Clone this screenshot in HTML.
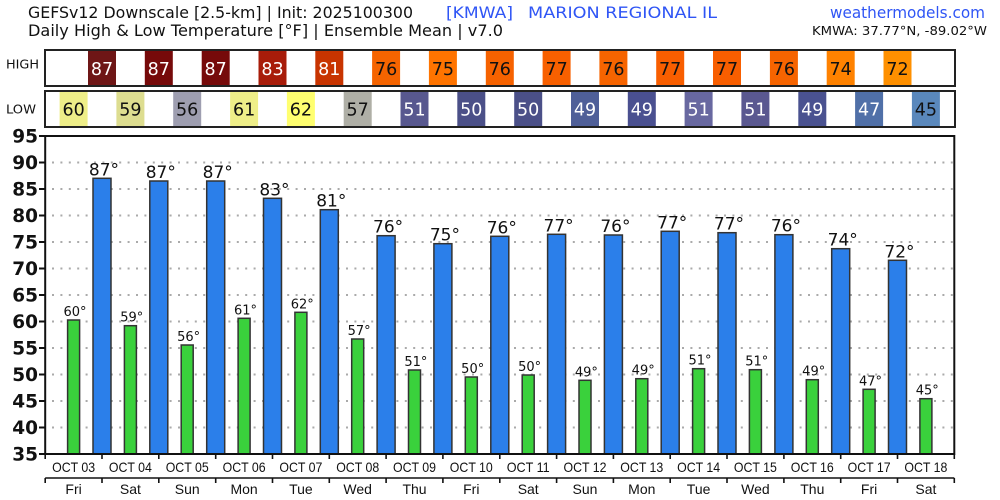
<!DOCTYPE html>
<html><head><meta charset="utf-8"><style>
html,body{margin:0;padding:0;background:#fff;}
svg{display:block;}
text{font-family:"DejaVu Sans","Liberation Sans",sans-serif;}
.t{font-family:"Liberation Sans","DejaVu Sans",sans-serif;}
</style></head><body>
<svg width="1000" height="500" viewBox="0 0 1000 500" xmlns="http://www.w3.org/2000/svg">
<rect width="1000" height="500" fill="#fff"/>
<!-- Titles -->
<text x="28" y="18" font-size="16" fill="#111" textLength="385" lengthAdjust="spacingAndGlyphs">GEFSv12 Downscale [2.5-km] | Init: 2025100300</text>
<text x="28" y="36" font-size="16" fill="#111" textLength="475" lengthAdjust="spacingAndGlyphs">Daily High &amp; Low Temperature [°F] | Ensemble Mean | v7.0</text>
<text x="446" y="18" font-size="16" fill="#2f55f5" textLength="67" lengthAdjust="spacingAndGlyphs">[KMWA]</text>
<text x="528" y="18" font-size="16" fill="#2f55f5" textLength="189" lengthAdjust="spacingAndGlyphs">MARION REGIONAL IL</text>
<text x="830" y="18" font-size="16" fill="#2f55f5" textLength="155" lengthAdjust="spacingAndGlyphs">weathermodels.com</text>
<text x="812" y="35" font-size="12.5" fill="#111" textLength="175" lengthAdjust="spacingAndGlyphs">KMWA: 37.77°N, -89.02°W</text>

<!-- HIGH/LOW labels -->
<text x="6" y="68.3" font-size="12" fill="#111" textLength="33" lengthAdjust="spacingAndGlyphs">HIGH</text>
<text x="6" y="113.3" font-size="12" fill="#111" textLength="30" lengthAdjust="spacingAndGlyphs">LOW</text>

<!-- HIGH cells -->
<g font-size="17.5" text-anchor="middle">
<rect x="88" y="51" width="28" height="34" fill="#6e1616"/><text x="102" y="75" fill="#fff">87</text>
<rect x="144.8" y="51" width="28" height="34" fill="#760a0a"/><text x="158.8" y="75" fill="#fff">87</text>
<rect x="201.7" y="51" width="28" height="34" fill="#760a0a"/><text x="215.7" y="75" fill="#fff">87</text>
<rect x="258.5" y="51" width="28" height="34" fill="#a81c0a"/><text x="272.5" y="75" fill="#fff">83</text>
<rect x="315.3" y="51" width="28" height="34" fill="#c83400"/><text x="329.3" y="75" fill="#fff">81</text>
<rect x="372.1" y="51" width="28" height="34" fill="#f56400"/><text x="386.1" y="75" fill="#111">76</text>
<rect x="428.9" y="51" width="28" height="34" fill="#ff7400"/><text x="442.9" y="75" fill="#111">75</text>
<rect x="485.8" y="51" width="28" height="34" fill="#f66200"/><text x="499.8" y="75" fill="#111">76</text>
<rect x="542.6" y="51" width="28" height="34" fill="#f86000"/><text x="556.6" y="75" fill="#111">77</text>
<rect x="599.4" y="51" width="28" height="34" fill="#f66400"/><text x="613.4" y="75" fill="#111">76</text>
<rect x="656.2" y="51" width="28" height="34" fill="#f85e00"/><text x="670.2" y="75" fill="#111">77</text>
<rect x="713" y="51" width="28" height="34" fill="#f85e00"/><text x="727" y="75" fill="#111">77</text>
<rect x="769.9" y="51" width="28" height="34" fill="#f66400"/><text x="783.9" y="75" fill="#111">76</text>
<rect x="826.7" y="51" width="28" height="34" fill="#ff8200"/><text x="840.7" y="75" fill="#111">74</text>
<rect x="883.5" y="51" width="28" height="34" fill="#ff9000"/><text x="897.5" y="75" fill="#111">72</text>
</g>
<rect x="45" y="50" width="910" height="36" fill="none" stroke="#222" stroke-width="2"/>

<!-- LOW cells -->
<g font-size="17.5" text-anchor="middle">
<rect x="59.6" y="92" width="28" height="34" fill="#eeee88"/><text x="73.6" y="115.7" fill="#111">60</text>
<rect x="116.4" y="92" width="28" height="34" fill="#dddd90"/><text x="130.4" y="115.7" fill="#111">59</text>
<rect x="173.2" y="92" width="28" height="34" fill="#9e9eb0"/><text x="187.2" y="115.7" fill="#111">56</text>
<rect x="230.1" y="92" width="28" height="34" fill="#eeee88"/><text x="244.1" y="115.7" fill="#111">61</text>
<rect x="286.9" y="92" width="28" height="34" fill="#ffff70"/><text x="300.9" y="115.7" fill="#111">62</text>
<rect x="343.7" y="92" width="28" height="34" fill="#afafa6"/><text x="357.7" y="115.7" fill="#111">57</text>
<rect x="400.5" y="92" width="28" height="34" fill="#58588f"/><text x="414.5" y="115.7" fill="#fff">51</text>
<rect x="457.3" y="92" width="28" height="34" fill="#4b5088"/><text x="471.3" y="115.7" fill="#fff">50</text>
<rect x="514.2" y="92" width="28" height="34" fill="#4b5088"/><text x="528.2" y="115.7" fill="#fff">50</text>
<rect x="571" y="92" width="28" height="34" fill="#4f5f98"/><text x="585" y="115.7" fill="#fff">49</text>
<rect x="627.8" y="92" width="28" height="34" fill="#4a5090"/><text x="641.8" y="115.7" fill="#fff">49</text>
<rect x="684.6" y="92" width="28" height="34" fill="#6868a0"/><text x="698.6" y="115.7" fill="#fff">51</text>
<rect x="741.4" y="92" width="28" height="34" fill="#5a5890"/><text x="755.4" y="115.7" fill="#fff">51</text>
<rect x="798.3" y="92" width="28" height="34" fill="#4a5290"/><text x="812.3" y="115.7" fill="#fff">49</text>
<rect x="855.1" y="92" width="28" height="34" fill="#5070a8"/><text x="869.1" y="115.7" fill="#fff">47</text>
<rect x="911.9" y="92" width="28" height="34" fill="#5a88bc"/><text x="925.9" y="115.7" fill="#111">45</text>
</g>
<rect x="45" y="91" width="910" height="36" fill="none" stroke="#222" stroke-width="2"/>

<!-- Grid -->
<g stroke="#aaa" stroke-width="2" stroke-dasharray="2 6.4">
<line x1="52" x2="953" y1="162.5" y2="162.5"/>
<line x1="52" x2="953" y1="189" y2="189"/>
<line x1="52" x2="953" y1="215.5" y2="215.5"/>
<line x1="52" x2="953" y1="242" y2="242"/>
<line x1="52" x2="953" y1="268.5" y2="268.5"/>
<line x1="52" x2="953" y1="295" y2="295"/>
<line x1="52" x2="953" y1="321.5" y2="321.5"/>
<line x1="52" x2="953" y1="348" y2="348"/>
<line x1="52" x2="953" y1="374.5" y2="374.5"/>
<line x1="52" x2="953" y1="401" y2="401"/>
<line x1="52" x2="953" y1="427.5" y2="427.5"/>
</g>

<!-- Y axis labels & ticks -->
<g font-size="18.5" font-weight="bold" text-anchor="end" fill="#111">
<text x="38" y="142.5">95</text>
<text x="38" y="169">90</text>
<text x="38" y="195.5">85</text>
<text x="38" y="222">80</text>
<text x="38" y="248.5">75</text>
<text x="38" y="275">70</text>
<text x="38" y="301.5">65</text>
<text x="38" y="328">60</text>
<text x="38" y="354.5">55</text>
<text x="38" y="381">50</text>
<text x="38" y="407.5">45</text>
<text x="38" y="434">40</text>
<text x="38" y="460.5">35</text>
</g>
<g stroke="#111" stroke-width="2">
<line x1="39" x2="45" y1="136" y2="136"/>
<line x1="39" x2="45" y1="162.5" y2="162.5"/>
<line x1="39" x2="45" y1="189" y2="189"/>
<line x1="39" x2="45" y1="215.5" y2="215.5"/>
<line x1="39" x2="45" y1="242" y2="242"/>
<line x1="39" x2="45" y1="268.5" y2="268.5"/>
<line x1="39" x2="45" y1="295" y2="295"/>
<line x1="39" x2="45" y1="321.5" y2="321.5"/>
<line x1="39" x2="45" y1="348" y2="348"/>
<line x1="39" x2="45" y1="374.5" y2="374.5"/>
<line x1="39" x2="45" y1="401" y2="401"/>
<line x1="39" x2="45" y1="427.5" y2="427.5"/>
<line x1="39" x2="45" y1="454" y2="454"/>
</g>

<!-- High bars -->
<g fill="#2b7fea" stroke="#333" stroke-width="1.5">
<rect x="93" y="178.3" width="18" height="275.7"/>
<rect x="149.8" y="181" width="18" height="273"/>
<rect x="206.7" y="181" width="18" height="273"/>
<rect x="263.5" y="198.3" width="18" height="255.7"/>
<rect x="320.3" y="209.7" width="18" height="244.3"/>
<rect x="377.1" y="235.7" width="18" height="218.3"/>
<rect x="433.9" y="243.7" width="18" height="210.3"/>
<rect x="490.8" y="236.3" width="18" height="217.7"/>
<rect x="547.6" y="234.3" width="18" height="219.7"/>
<rect x="604.4" y="235" width="18" height="219"/>
<rect x="661.2" y="231.3" width="18" height="222.7"/>
<rect x="718" y="232.7" width="18" height="221.3"/>
<rect x="774.9" y="234.7" width="18" height="219.3"/>
<rect x="831.7" y="248.7" width="18" height="205.3"/>
<rect x="888.5" y="260.3" width="18" height="193.7"/>
</g>
<!-- Low bars -->
<g fill="#3ad13c" stroke="#333" stroke-width="1.5">
<rect x="67.6" y="320" width="12" height="134"/>
<rect x="124.4" y="325.7" width="12" height="128.3"/>
<rect x="181.2" y="345" width="12" height="109"/>
<rect x="238.1" y="318.3" width="12" height="135.7"/>
<rect x="294.9" y="312.3" width="12" height="141.7"/>
<rect x="351.7" y="339" width="12" height="115"/>
<rect x="408.5" y="370" width="12" height="84"/>
<rect x="465.3" y="377" width="12" height="77"/>
<rect x="522.2" y="375" width="12" height="79"/>
<rect x="579" y="380.3" width="12" height="73.7"/>
<rect x="635.8" y="378.7" width="12" height="75.3"/>
<rect x="692.6" y="368.7" width="12" height="85.3"/>
<rect x="749.4" y="369.7" width="12" height="84.3"/>
<rect x="806.3" y="379.7" width="12" height="74.3"/>
<rect x="863.1" y="389.3" width="12" height="64.7"/>
<rect x="919.9" y="398.7" width="12" height="55.3"/>
</g>

<!-- High labels -->
<g font-size="17" text-anchor="middle" fill="#111">
<text x="104" y="175.3">87°</text>
<text x="160.8" y="178">87°</text>
<text x="217.7" y="178">87°</text>
<text x="274.5" y="195.3">83°</text>
<text x="331.3" y="206.7">81°</text>
<text x="388.1" y="232.7">76°</text>
<text x="444.9" y="240.7">75°</text>
<text x="501.8" y="233.3">76°</text>
<text x="558.6" y="231.3">77°</text>
<text x="615.4" y="232">76°</text>
<text x="672.2" y="228.3">77°</text>
<text x="729" y="229.7">77°</text>
<text x="785.9" y="231.7">76°</text>
<text x="842.7" y="245.7">74°</text>
<text x="899.5" y="257.3">72°</text>
</g>
<!-- Low labels -->
<g font-size="13" text-anchor="middle" fill="#111">
<text x="75" y="316">60°</text>
<text x="131.8" y="321.7">59°</text>
<text x="188.6" y="341">56°</text>
<text x="245.5" y="314.3">61°</text>
<text x="302.3" y="308.3">62°</text>
<text x="359.1" y="335">57°</text>
<text x="415.9" y="366">51°</text>
<text x="472.7" y="373">50°</text>
<text x="529.6" y="371">50°</text>
<text x="586.4" y="376.3">49°</text>
<text x="643.2" y="374.7">49°</text>
<text x="700" y="364.7">51°</text>
<text x="756.8" y="365.7">51°</text>
<text x="813.7" y="375.7">49°</text>
<text x="870.5" y="385.3">47°</text>
<text x="927.3" y="394.7">45°</text>
</g>

<!-- Plot frame -->
<rect x="45.2" y="136" width="909.1" height="318" fill="none" stroke="#111" stroke-width="2"/>

<!-- X axis ticks row 1 -->
<g stroke="#111" stroke-width="1.6">
<line x1="45.2" x2="45.2" y1="454" y2="459"/><line x1="102" x2="102" y1="454" y2="459"/><line x1="158.8" x2="158.8" y1="454" y2="459"/><line x1="215.7" x2="215.7" y1="454" y2="459"/><line x1="272.5" x2="272.5" y1="454" y2="459"/><line x1="329.3" x2="329.3" y1="454" y2="459"/><line x1="386.1" x2="386.1" y1="454" y2="459"/><line x1="442.9" x2="442.9" y1="454" y2="459"/><line x1="499.8" x2="499.8" y1="454" y2="459"/><line x1="556.6" x2="556.6" y1="454" y2="459"/><line x1="613.4" x2="613.4" y1="454" y2="459"/><line x1="670.2" x2="670.2" y1="454" y2="459"/><line x1="727" x2="727" y1="454" y2="459"/><line x1="783.9" x2="783.9" y1="454" y2="459"/><line x1="840.7" x2="840.7" y1="454" y2="459"/><line x1="897.5" x2="897.5" y1="454" y2="459"/><line x1="954.3" x2="954.3" y1="454" y2="459"/>
</g>
<!-- Date labels -->
<g font-size="14" text-anchor="middle" fill="#111">
<text class="t" x="73.6" y="472" textLength="43" lengthAdjust="spacingAndGlyphs">OCT 03</text>
<text class="t" x="130.4" y="472" textLength="43" lengthAdjust="spacingAndGlyphs">OCT 04</text>
<text class="t" x="187.2" y="472" textLength="43" lengthAdjust="spacingAndGlyphs">OCT 05</text>
<text class="t" x="244.1" y="472" textLength="43" lengthAdjust="spacingAndGlyphs">OCT 06</text>
<text class="t" x="300.9" y="472" textLength="43" lengthAdjust="spacingAndGlyphs">OCT 07</text>
<text class="t" x="357.7" y="472" textLength="43" lengthAdjust="spacingAndGlyphs">OCT 08</text>
<text class="t" x="414.5" y="472" textLength="43" lengthAdjust="spacingAndGlyphs">OCT 09</text>
<text class="t" x="471.3" y="472" textLength="43" lengthAdjust="spacingAndGlyphs">OCT 10</text>
<text class="t" x="528.2" y="472" textLength="43" lengthAdjust="spacingAndGlyphs">OCT 11</text>
<text class="t" x="585" y="472" textLength="43" lengthAdjust="spacingAndGlyphs">OCT 12</text>
<text class="t" x="641.8" y="472" textLength="43" lengthAdjust="spacingAndGlyphs">OCT 13</text>
<text class="t" x="698.6" y="472" textLength="43" lengthAdjust="spacingAndGlyphs">OCT 14</text>
<text class="t" x="755.4" y="472" textLength="43" lengthAdjust="spacingAndGlyphs">OCT 15</text>
<text class="t" x="812.3" y="472" textLength="43" lengthAdjust="spacingAndGlyphs">OCT 16</text>
<text class="t" x="869.1" y="472" textLength="43" lengthAdjust="spacingAndGlyphs">OCT 17</text>
<text class="t" x="925.9" y="472" textLength="43" lengthAdjust="spacingAndGlyphs">OCT 18</text>
</g>
<!-- Second axis row -->
<line x1="45.2" x2="954.3" y1="478" y2="478" stroke="#111" stroke-width="1.6"/>
<g stroke="#111" stroke-width="1.6">
<line x1="45.2" x2="45.2" y1="478" y2="483"/><line x1="102" x2="102" y1="478" y2="483"/><line x1="158.8" x2="158.8" y1="478" y2="483"/><line x1="215.7" x2="215.7" y1="478" y2="483"/><line x1="272.5" x2="272.5" y1="478" y2="483"/><line x1="329.3" x2="329.3" y1="478" y2="483"/><line x1="386.1" x2="386.1" y1="478" y2="483"/><line x1="442.9" x2="442.9" y1="478" y2="483"/><line x1="499.8" x2="499.8" y1="478" y2="483"/><line x1="556.6" x2="556.6" y1="478" y2="483"/><line x1="613.4" x2="613.4" y1="478" y2="483"/><line x1="670.2" x2="670.2" y1="478" y2="483"/><line x1="727" x2="727" y1="478" y2="483"/><line x1="783.9" x2="783.9" y1="478" y2="483"/><line x1="840.7" x2="840.7" y1="478" y2="483"/><line x1="897.5" x2="897.5" y1="478" y2="483"/><line x1="954.3" x2="954.3" y1="478" y2="483"/>
</g>
<g font-size="14" text-anchor="middle" fill="#111">
<text class="t" x="73.6" y="494">Fri</text>
<text class="t" x="130.4" y="494">Sat</text>
<text class="t" x="187.2" y="494">Sun</text>
<text class="t" x="244.1" y="494">Mon</text>
<text class="t" x="300.9" y="494">Tue</text>
<text class="t" x="357.7" y="494">Wed</text>
<text class="t" x="414.5" y="494">Thu</text>
<text class="t" x="471.3" y="494">Fri</text>
<text class="t" x="528.2" y="494">Sat</text>
<text class="t" x="585" y="494">Sun</text>
<text class="t" x="641.8" y="494">Mon</text>
<text class="t" x="698.6" y="494">Tue</text>
<text class="t" x="755.4" y="494">Wed</text>
<text class="t" x="812.3" y="494">Thu</text>
<text class="t" x="869.1" y="494">Fri</text>
<text class="t" x="925.9" y="494">Sat</text>
</g>
</svg>
</body></html>
